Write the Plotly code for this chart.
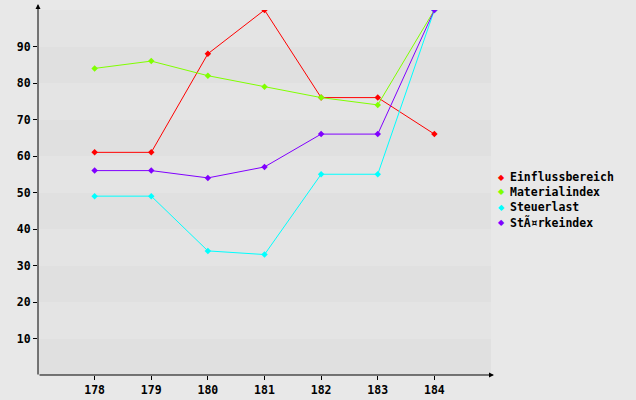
import plotly.graph_objects as go

# Werte
x_werte = [178, 179, 180, 181, 182, 183, 184]
einflussbereich = [61, 61, 88, 100, 76, 76, 66]
materialindex = [84, 86, 82, 79, 76, 74, 100]
steuerlast = [49, 49, 34, 33, 55, 55, 100]
staerkeindex = [56, 56, 54, 57, 66, 66, 100]

namen = ["Einflussbereich", "Materialindex", "Steuerlast", "StÃ¤rkeindex"]
farben = ["#ff0000", "#80ff00", "#00ffff", "#8000ff"]
reihen = [einflussbereich, materialindex, steuerlast, staerkeindex]

y_ticks = [10, 20, 30, 40, 50, 60, 70, 80, 90]

FONT = dict(family="DejaVu Sans Mono", size=11.5, color="#000000", weight="bold")

fig = go.Figure()
for name, farbe, werte in zip(namen, farben, reihen):
    fig.add_trace(go.Scatter(
        x=x_werte, y=werte, name=name, mode="lines+markers",
        line=dict(color=farbe, width=1),
        marker=dict(symbol="diamond", size=5, color=farbe),
        showlegend=False,
    ))

# Hintergrundbänder im 10er-Raster
for i, y0 in enumerate(range(0, 100, 10)):
    fig.add_shape(type="rect", xref="paper", yref="y", x0=0, x1=1, y0=y0, y1=y0 + 10,
                  fillcolor="#e0e0e0" if i % 2 == 0 else "#e4e4e4",
                  line_width=0, layer="below")

# Achsen mit Pfeilen
fig.add_annotation(xref="paper", yref="paper", x=0, y=1 + 6 / 365, ax=0, ay=372,
                   showarrow=True, arrowhead=2, arrowsize=1, arrowwidth=1,
                   arrowcolor="#000000", text="")
fig.add_annotation(xref="paper", yref="paper", x=1 + 3 / 453, y=0, ax=-456, ay=0,
                   showarrow=True, arrowhead=2, arrowsize=1, arrowwidth=1,
                   arrowcolor="#000000", text="")

# Legende als Textbeschriftung
for i, (name, farbe) in enumerate(zip(namen, farben)):
    yy = (375 - 177 - 15 * i) / 365
    fig.add_annotation(xref="paper", yref="paper", x=(502 - 38) / 453, y=yy,
                       text="◆", showarrow=False, xanchor="center", yanchor="middle",
                       font=dict(family="DejaVu Sans", size=8, color=farbe))
    fig.add_annotation(xref="paper", yref="paper", x=(508 - 38) / 453, y=yy,
                       text=name, showarrow=False, xanchor="left", yanchor="middle",
                       font=FONT)

fig.update_layout(
    width=636, height=400,
    margin=dict(l=38, r=145, t=10, b=25),
    paper_bgcolor="#e8e8e8",
    plot_bgcolor="#e8e8e8",
    showlegend=False,
    font=FONT,
    xaxis=dict(range=[177, 185], tickvals=x_werte, ticks="outside", ticklen=4,
               tickcolor="#000000", showgrid=False, zeroline=False, showline=False,
               tickfont=FONT, fixedrange=True, automargin=False),
    yaxis=dict(range=[0, 100], tickvals=y_ticks, ticks="outside", ticklen=4,
               tickcolor="#000000", showgrid=False, zeroline=False, showline=False,
               tickfont=FONT, fixedrange=True, automargin=False),
)

fig.write_html(
    "out.html",
    config={"displayModeBar": False},
    post_script="document.body.style.margin='0';document.body.style.background='#e8e8e8';",
)
